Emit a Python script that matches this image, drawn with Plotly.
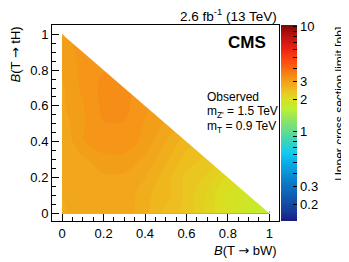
"""
Limite observee sur la section efficace dans le plan B(T -> bW) / B(T -> tH).
"""

import math
import plotly.graph_objects as go

# fractions de branchement (grille 0.1)
b_bw = [0.0, 0.1, 0.2, 0.3, 0.4, 0.5, 0.6, 0.7, 0.8, 0.9, 1.0]
b_th = [0.0, 0.1, 0.2, 0.3, 0.4, 0.5, 0.6, 0.7, 0.8, 0.9, 1.0]

# limite observee [pb], une ligne par valeur de B(T -> tH)
limit_rows = [
    [2.75, 2.9, 2.8, 2.9, 2.7, 2.5, 2.4, 2.2, 2.0, 1.8, 1.6],  # tH = 0.0
    [2.8, 2.9, 2.8, 2.9, 2.7, 2.6, 2.4, 2.2, 2.0, 1.9],        # tH = 0.1
    [2.8, 2.9, 2.9, 2.9, 2.8, 2.6, 2.4, 2.3, 2.1],             # tH = 0.2
    [2.8, 2.9, 3.0, 3.0, 2.9, 2.7, 2.5, 2.4],                  # tH = 0.3
    [2.8, 3.05, 3.2, 3.2, 3.0, 2.8, 2.6],                      # tH = 0.4
    [2.85, 3.05, 3.2, 3.2, 3.05, 2.9],                         # tH = 0.5
    [2.9, 3.05, 3.25, 3.25, 3.1],                              # tH = 0.6
    [2.9, 3.1, 3.25, 3.25],                                    # tH = 0.7
    [2.95, 3.1, 3.2],                                          # tH = 0.8
    [3.0, 3.1],                                                # tH = 0.9
    [3.05],                                                    # tH = 1.0
]

# echelle de couleur (log)
z_min, z_max = 0.14, 10.3
cbar_ticks = [0.2, 0.3, 0.4, 0.5, 0.6, 0.7, 0.8, 0.9, 1, 2, 3, 4, 5, 6, 7, 8, 9, 10]
cbar_labels = {0.2: "0.2", 0.3: "0.3", 1: "1", 2: "2", 3: "3", 10: "10"}

palette = [
    [0.00, "#1c1a82"], [0.06, "#16409c"], [0.14, "#1062b4"],
    [0.22, "#0c84d0"], [0.30, "#0aaee8"], [0.345, "#10c8f0"],
    [0.42, "#40d8b4"], [0.50, "#84e070"], [0.575, "#bcf030"],
    [0.625, "#d8e020"], [0.67, "#eec020"], [0.72, "#f49a18"],
    [0.77, "#fa7414"], [0.81, "#ff5010"], [0.88, "#ec2410"],
    [0.95, "#b81010"], [1.00, "#800a0a"],
]

FONT = "Liberation Sans, Arial, sans-serif"
ARROW = '<span style="font-family:DejaVu Sans">\u2192</span>'


def grille_log():
    """Matrice log10(limite), None hors du triangle."""
    z = []
    for i in range(len(b_th)):
        row = [math.log10(v) for v in limit_rows[i]]
        row += [None] * (len(b_bw) - len(row))
        z.append(row)
    return z


def main():
    fig = go.Figure()

    fig.add_trace(go.Contour(
        x=b_bw, y=b_th, z=grille_log(),
        colorscale=palette,
        zmin=math.log10(z_min), zmax=math.log10(z_max),
        autocontour=False,
        contours=dict(start=math.log10(z_min), end=math.log10(z_max),
                      size=0.02, coloring="fill", showlines=False),
        line=dict(width=0),
        hoverinfo="skip",
        colorbar=dict(
            x=1.009, xanchor="left", y=0.5, yanchor="middle",
            thickness=16, lenmode="pixels", len=196,
            xpad=0, ypad=0, outlinewidth=0,
            tickmode="array",
            tickvals=[math.log10(t) for t in cbar_ticks],
            ticktext=[cbar_labels.get(t, "") for t in cbar_ticks],
            ticks="inside", ticklen=4, tickcolor="black", tickwidth=1,
            tickfont=dict(family=FONT, size=13, color="black"),
        ),
    ))

    # partie non physique (B(bW) + B(tH) > 1) laissee en blanc
    x0, x1 = b_bw[0], b_bw[-1]
    y0, y1 = b_th[0], b_th[-1]
    fig.add_shape(type="path",
                  path=f"M {x0},{y1} L {x1},{y1} L {x1},{y0} Z",
                  fillcolor="white", line=dict(width=0), layer="above")

    axe = dict(showgrid=False, zeroline=False, showline=True, mirror=True,
               linecolor="black", linewidth=1,
               ticks="inside", ticklen=7, tickcolor="black",
               tick0=0, dtick=0.2,
               minor=dict(ticks="inside", ticklen=4, tickcolor="black",
                          tick0=0, dtick=0.05),
               tickfont=dict(family=FONT, size=13, color="black"))

    # la page ajoute 8 px de marge (body) : figure un peu plus petite
    fig.update_layout(
        width=341, height=254,
        margin=dict(l=44, r=70, t=17, b=41),
        paper_bgcolor="white", plot_bgcolor="white",
        font=dict(family=FONT, size=13, color="black"),
        xaxis=dict(axe, range=[-0.049, 1.047]),
        yaxis=dict(axe, range=[-0.043, 1.052]),
        showlegend=False,
    )

    textes = [
        dict(text="2.6 fb<sup>-1</sup> (13 TeV)", x=1.0, y=1.0,
             xanchor="right", yanchor="bottom", yshift=-1, font=dict(size=13.5)),
        dict(text="<b>CMS</b>", x=0.952, y=0.913,
             xanchor="right", yanchor="middle", font=dict(size=17)),
        dict(text="Observed", x=0.674, y=0.633,
             xanchor="left", yanchor="middle", font=dict(size=12)),
        dict(text="m<sub>Z'</sub> = 1.5 TeV", x=0.674, y=0.556,
             xanchor="left", yanchor="middle", font=dict(size=12)),
        dict(text="m<sub>T</sub> = 0.9 TeV", x=0.674, y=0.48,
             xanchor="left", yanchor="middle", font=dict(size=12)),
        dict(text="<i>B</i>(T " + ARROW + " bW)", x=1.0, y=-0.15,
             xanchor="right", yanchor="middle", font=dict(size=13)),
        dict(text="<i>B</i>(T " + ARROW + " tH)", x=-0.165, y=1.0,
             textangle=-90, xanchor="center", yanchor="top",
             font=dict(size=13)),
        dict(text="Upper cross section limit [pb]", x=1.268, y=1.0,
             textangle=-90, xanchor="center", yanchor="top",
             font=dict(size=12)),
    ]
    for t in textes:
        t.setdefault("xref", "paper")
        t.setdefault("yref", "paper")
        t["showarrow"] = False
        fig.add_annotation(**t)

    fig.write_html("out.html")


if __name__ == "__main__":
    main()
